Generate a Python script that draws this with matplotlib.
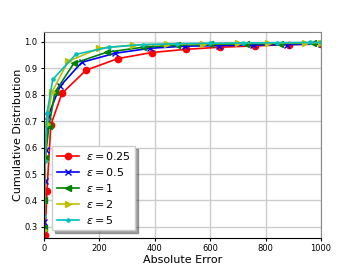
import matplotlib
matplotlib.use("Agg")
import matplotlib.pyplot as plt

# values (absolute error -> cumulative fraction)
x_025 = [4, 11, 25, 65, 152, 267, 390, 513, 635, 762, 884, 1000]
y_025 = [0.27, 0.436, 0.686, 0.805, 0.893, 0.937, 0.960, 0.972, 0.980, 0.985, 0.990, 0.992]

x_05 = [1, 3, 6, 15, 58, 137, 256, 383, 509, 632, 755, 877, 1000]
y_05 = [0.32, 0.474, 0.59, 0.72, 0.832, 0.923, 0.957, 0.976, 0.984, 0.986, 0.988, 0.990, 0.992]

x_1 = [0, 2, 5, 18, 40, 108, 227, 357, 480, 599, 729, 852, 971, 1000]
y_1 = [0.296, 0.40, 0.56, 0.68, 0.81, 0.919, 0.961, 0.980, 0.988, 0.991, 0.993, 0.994, 0.995, 0.995]

x_2 = [1, 4, 10, 29, 87, 199, 321, 445, 574, 700, 808, 942, 1000]
y_2 = [0.29, 0.55, 0.69, 0.81, 0.926, 0.976, 0.988, 0.991, 0.993, 0.995, 0.996, 0.997, 0.997]

x_5 = [0, 3, 11, 32, 115, 235, 357, 480, 600, 720, 840, 960, 1000]
y_5 = [0.34, 0.55, 0.73, 0.858, 0.953, 0.980, 0.990, 0.993, 0.995, 0.996, 0.997, 0.998, 0.998]

fig = plt.figure(figsize=(3.57, 2.68), dpi=100)
ax = fig.add_axes([0.123, 0.112, 0.776, 0.769])

ax.plot(x_025, y_025, color='r', marker='o', lw=1.2, ms=4.5, label=r'$\epsilon=0.25$')
ax.plot(x_05, y_05, color='b', marker='x', lw=1.2, ms=4.5, label=r'$\epsilon=0.5$')
ax.plot(x_1, y_1, color='g', marker='<', lw=1.2, ms=4.5, label=r'$\epsilon=1$')
ax.plot(x_2, y_2, color='y', marker='>', lw=1.2, ms=4.5, label=r'$\epsilon=2$')
ax.plot(x_5, y_5, color='c', marker='.', lw=1.2, ms=4.5, label=r'$\epsilon=5$')

ax.set_xlim(0, 1000)
ax.set_ylim(0.258, 1.038)
ax.set_xticks([0, 200, 400, 600, 800, 1000])
ax.set_yticks([0.3, 0.4, 0.5, 0.6, 0.7, 0.8, 0.9, 1.0])
ax.tick_params(labelsize=6, length=2.5, pad=2)
ax.grid(True, color='#cccccc', lw=1)
ax.set_axisbelow(True)
for s in ['top', 'right']:
    ax.spines[s].set_color('#888888')
ax.set_xlabel('Absolute Error', fontsize=8, labelpad=1)
ax.set_ylabel('Cumulative Distribution', fontsize=8, labelpad=1)
ax.legend(loc='lower left', fontsize=8, shadow=True, handlelength=2.0,
          labelspacing=0.35, borderpad=0.4, handletextpad=0.6,
          fancybox=False, bbox_to_anchor=(0.01, 0.01))

plt.savefig('out.png', dpi=100)
